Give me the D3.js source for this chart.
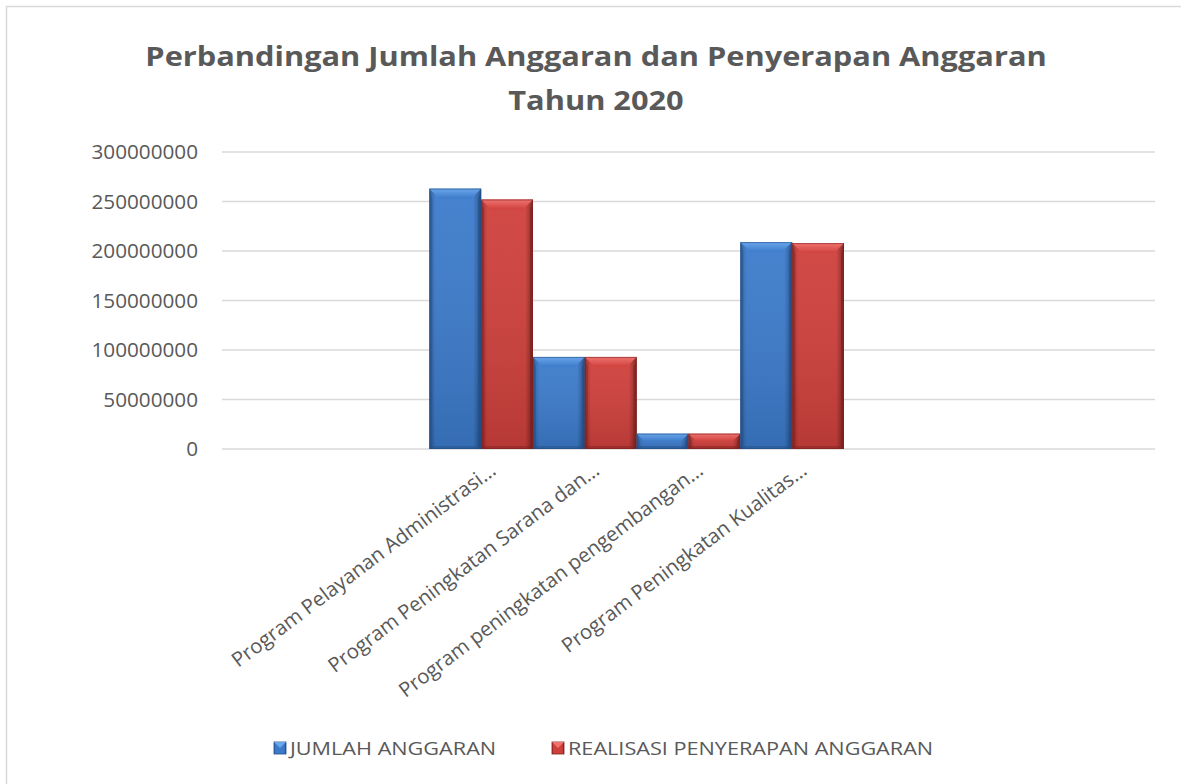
<!DOCTYPE html>
<html>
<head>
<meta charset="utf-8">
<script src="https://cdn.jsdelivr.net/npm/d3@7"></script>
<style>
  body { margin: 0; background: #fff; }
  text { font-family: "Open Sans", Lato, sans-serif; fill: #595959; }
</style>
</head>
<body>
<div id="chart"></div>
<script>
// chart data (blank slots are empty categories in the source sheet)
var categories = ["", "", "Program Pelayanan Administrasi...", "Program Peningkatan Sarana dan...",
  "Program peningkatan pengembangan...", "Program Peningkatan Kualitas...", "", "", ""];
var jumlahAnggaran = [null, null, 263000000, 93000000, 15500000, 209000000, null, null, null];
var realisasiPenyerapan = [null, null, 252000000, 93000000, 15500000, 208000000, null, null, null];
var seriesNames = ["JUMLAH ANGGARAN", "REALISASI PENYERAPAN ANGGARAN"];
var yTicks = [0, 50000000, 100000000, 150000000, 200000000, 250000000, 300000000];

var W = 1181, H = 784;
var margin = { top: 152, right: 26, bottom: 335, left: 222 },
  width = W - margin.left - margin.right,
  height = H - margin.top - margin.bottom;

var svg = d3.select("#chart").append("svg")
  .attr("width", W).attr("height", H);

// outer chart frame
svg.append("rect").attr("x", 6.5).attr("y", 6.5).attr("width", W + 20).attr("height", H + 20)
  .attr("fill", "none").attr("stroke", "#d9d9d9").attr("stroke-width", 1.5);

var defs = svg.append("defs");
var palette = [
  { id: "blue", dark: "#2c5d9c", mid: "#3c7bcb", light: "#6aa6ea", edge: "#234d85" },
  { id: "red", dark: "#9c2b28", mid: "#cf403c", light: "#ef7470", edge: "#7e2220" }
];
palette.forEach(function (p) {
  var g = defs.append("linearGradient").attr("id", "body-" + p.id).attr("x1", 0).attr("x2", 1).attr("y1", 0).attr("y2", 0);
  g.append("stop").attr("offset", "0%").attr("stop-color", p.dark);
  g.append("stop").attr("offset", "12%").attr("stop-color", p.mid);
  g.append("stop").attr("offset", "85%").attr("stop-color", p.mid);
  g.append("stop").attr("offset", "100%").attr("stop-color", p.edge);
  var t = defs.append("linearGradient").attr("id", "top-" + p.id).attr("x1", 0).attr("x2", 0).attr("y1", 0).attr("y2", 1);
  t.append("stop").attr("offset", "0%").attr("stop-color", p.light);
  t.append("stop").attr("offset", "100%").attr("stop-color", p.mid);
  var v = defs.append("linearGradient").attr("id", "vert-" + p.id).attr("x1", 0).attr("x2", 0).attr("y1", 0).attr("y2", 1);
  v.append("stop").attr("offset", "0%").attr("stop-color", "#fff").attr("stop-opacity", 0.05);
  v.append("stop").attr("offset", "100%").attr("stop-color", "#000").attr("stop-opacity", 0.12);
});

// title (source font is a bit wider than Open Sans, so stretch horizontally)
var title = svg.append("text").attr("text-anchor", "middle")
  .attr("transform", "translate(596,0) scale(1.14,1)")
  .style("font-weight", "bold").style("font-size", "27px");
title.append("tspan").attr("x", 0).attr("y", 66).text("Perbandingan Jumlah Anggaran dan Penyerapan Anggaran");
title.append("tspan").attr("x", 0).attr("y", 110).text("Tahun 2020");

var g = svg.append("g").attr("transform", "translate(" + margin.left + "," + margin.top + ")");

var x0 = d3.scaleBand().domain(d3.range(categories.length)).range([0, width]).paddingInner(0).paddingOuter(0);
var x1 = d3.scaleBand().domain([0, 1]).range([0, x0.bandwidth()]);
var y = d3.scaleLinear().domain([0, 300000000]).range([height, 0]);

// gridlines
g.selectAll(".grid").data(yTicks).enter().append("line")
  .attr("x1", 0).attr("x2", width)
  .attr("y1", function (d) { return y(d); }).attr("y2", function (d) { return y(d); })
  .attr("stroke", "#d9d9d9").attr("stroke-width", 1.5);

// y axis labels
var yAxis = d3.axisLeft(y).tickValues(yTicks).tickFormat(d3.format("d")).tickSize(0).tickPadding(24);
var ya = g.append("g").call(yAxis);
ya.select(".domain").remove();
ya.selectAll("text").style("font-size", "20.7px").attr("fill", "#595959").style("font-family", "'Open Sans', sans-serif");

// bars
var rows = [];
categories.forEach(function (c, i) {
  [jumlahAnggaran[i], realisasiPenyerapan[i]].forEach(function (v, s) {
    if (v != null) rows.push({ cat: i, s: s, v: v });
  });
});

var bars = g.selectAll(".bar").data(rows).enter().append("g").attr("class", "bar");
bars.each(function (d) {
  var sel = d3.select(this), p = palette[d.s];
  var bx = x0(d.cat) + x1(d.s), bw = x1.bandwidth(), by = y(d.v), bh = y(0) - y(d.v);
  var b = Math.min(10, bh / 2), sw = 3;
  sel.append("rect").attr("x", bx).attr("y", by).attr("width", bw).attr("height", bh)
    .attr("fill", "url(#body-" + p.id + ")");
  sel.append("rect").attr("x", bx).attr("y", by).attr("width", bw).attr("height", bh)
    .attr("fill", "url(#vert-" + p.id + ")");
  // top bevel
  sel.append("path").attr("d", "M" + bx + "," + by + "L" + (bx + bw) + "," + by + "L" + (bx + bw - b) + "," + (by + b)
    + "L" + (bx + b) + "," + (by + b) + "Z").attr("fill", "url(#top-" + p.id + ")");
  // side bevels
  sel.append("path").attr("d", "M" + bx + "," + by + "L" + (bx + sw) + "," + (by + b) + "L" + (bx + sw) + "," + (by + bh - sw)
    + "L" + bx + "," + (by + bh) + "Z").attr("fill", p.edge).attr("opacity", 0.45);
  sel.append("path").attr("d", "M" + (bx + bw) + "," + by + "L" + (bx + bw - sw) + "," + (by + b) + "L" + (bx + bw - sw) + "," + (by + bh - sw)
    + "L" + (bx + bw) + "," + (by + bh) + "Z").attr("fill", p.edge).attr("opacity", 0.7);
  sel.append("rect").attr("x", bx).attr("y", by + bh - sw).attr("width", bw).attr("height", sw)
    .attr("fill", p.edge).attr("opacity", 0.45);
  sel.append("rect").attr("x", bx + 0.5).attr("y", by + 0.5).attr("width", bw - 1).attr("height", bh - 1)
    .attr("fill", "none").attr("stroke", p.edge).attr("stroke-width", 1).attr("opacity", 0.6);
});

// x labels
g.selectAll(".xl").data(categories.map(function (c, i) { return { c: c, i: i }; }).filter(function (d) { return d.c; }))
  .enter().append("text")
  .attr("text-anchor", "end")
  .attr("transform", function (d) { return "translate(" + (x0(d.i) + x0.bandwidth() / 2 + 16) + "," + (height + 24) + ") rotate(-37)"; })
  .style("font-size", "20.3px")
  .text(function (d) { return d.c; });

// legend
var legendItems = [{ name: seriesNames[0], x: 274, p: palette[0] }, { name: seriesNames[1], x: 552, p: palette[1] }];
var lg = svg.append("g").attr("transform", "translate(0,742)");
legendItems.forEach(function (it) {
  lg.append("rect").attr("x", it.x).attr("y", 0).attr("width", 12).attr("height", 12).attr("fill", "url(#body-" + it.p.id + ")")
    .attr("stroke", it.p.edge).attr("stroke-width", 0.8);
  lg.append("path").attr("d", "M" + it.x + ",0L" + (it.x + 12) + ",0L" + (it.x + 6) + ",6Z").attr("fill", it.p.light);
  lg.append("text").attr("transform", "translate(" + (it.x + 16) + ",13) scale(1.14,1)")
    .style("font-size", "19px").text(it.name);
});
</script>
</body>
</html>
